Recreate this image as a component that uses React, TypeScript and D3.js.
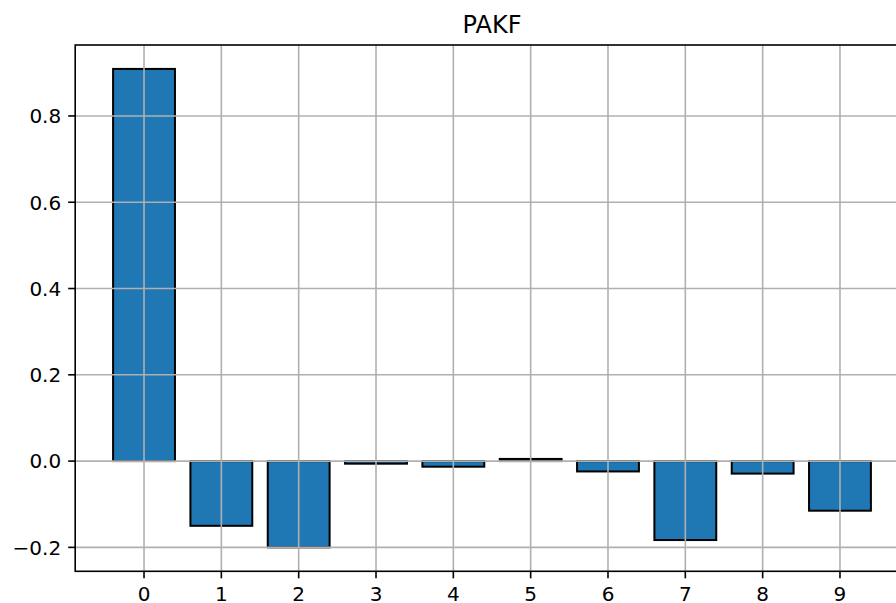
import React from "react";
import * as d3 from "d3";

const title = "PAKF";
const lags = [0, 1, 2, 3, 4, 5, 6, 7, 8, 9];
const values = [0.909, -0.15, -0.2, -0.006, -0.013, 0.005, -0.024, -0.183, -0.029, -0.115];
const yTicks = [-0.2, 0.0, 0.2, 0.4, 0.6, 0.8];

const W = 896;
const H = 603;
const left = 75.2;
const right = 908.8;
const top = 45;
const bottom = 571.3;

export default function App() {
  const barW = 0.8;
  const xmin = d3.min(lags)! - barW / 2;
  const xmax = d3.max(lags)! + barW / 2;
  const xm = (xmax - xmin) * 0.05;
  const x = d3.scaleLinear().domain([xmin - xm, xmax + xm]).range([left, right]);
  const ymin = Math.min(0, d3.min(values)!);
  const ymax = Math.max(0, d3.max(values)!);
  const ym = (ymax - ymin) * 0.05;
  const y = d3.scaleLinear().domain([ymin - ym, ymax + ym]).range([bottom, top]);
  const font = "DejaVu Sans";
  const fmt = (v: number) => (v < 0 ? "\u2212" : "") + Math.abs(v).toFixed(1);

  return (
    <svg
      width={W}
      height={H}
      style={{ position: "absolute", left: 0, top: 0, background: "#fff" }}
      fontFamily={font}
    >
      <rect x={0} y={0} width={W} height={H} fill="#fff" />
      {/* bars */}
      {values.map((v, i) => {
        const x0 = x(lags[i] - barW / 2);
        const x1 = x(lags[i] + barW / 2);
        const y0 = y(Math.max(0, v));
        const y1 = y(Math.min(0, v));
        return (
          <rect
            key={i}
            x={x0}
            y={y0}
            width={x1 - x0}
            height={Math.max(0.01, y1 - y0)}
            fill="#1f77b4"
            stroke="#000"
            strokeWidth={2}
          />
        );
      })}
      {/* grid */}
      {lags.map((l) => (
        <line key={"gx" + l} x1={x(l)} x2={x(l)} y1={top} y2={bottom} stroke="#b0b0b0" strokeWidth={1.6} />
      ))}
      {yTicks.map((t) => (
        <line key={"gy" + t} x1={left} x2={right} y1={y(t)} y2={y(t)} stroke="#b0b0b0" strokeWidth={1.6} />
      ))}
      {/* spines */}
      <rect x={left} y={top} width={right - left} height={bottom - top} fill="none" stroke="#000" strokeWidth={1.6} />
      {/* x ticks */}
      {lags.map((l) => (
        <g key={"tx" + l}>
          <line x1={x(l)} x2={x(l)} y1={bottom} y2={bottom + 7} stroke="#000" strokeWidth={1.6} />
          <text x={x(l)} y={bottom + 14 + 15.2} fontSize={20} textAnchor="middle" fill="#000">
            {l}
          </text>
        </g>
      ))}
      {/* y ticks */}
      {yTicks.map((t) => (
        <g key={"ty" + t}>
          <line x1={left - 7} x2={left} y1={y(t)} y2={y(t)} stroke="#000" strokeWidth={1.6} />
          <text x={left - 14} y={y(t) + 7.3} fontSize={20} textAnchor="end" fill="#000">
            {fmt(t)}
          </text>
        </g>
      ))}
      <text x={(left + right) / 2} y={top - 12} fontSize={24} textAnchor="middle" fill="#000">
        {title}
      </text>
    </svg>
  );
}
